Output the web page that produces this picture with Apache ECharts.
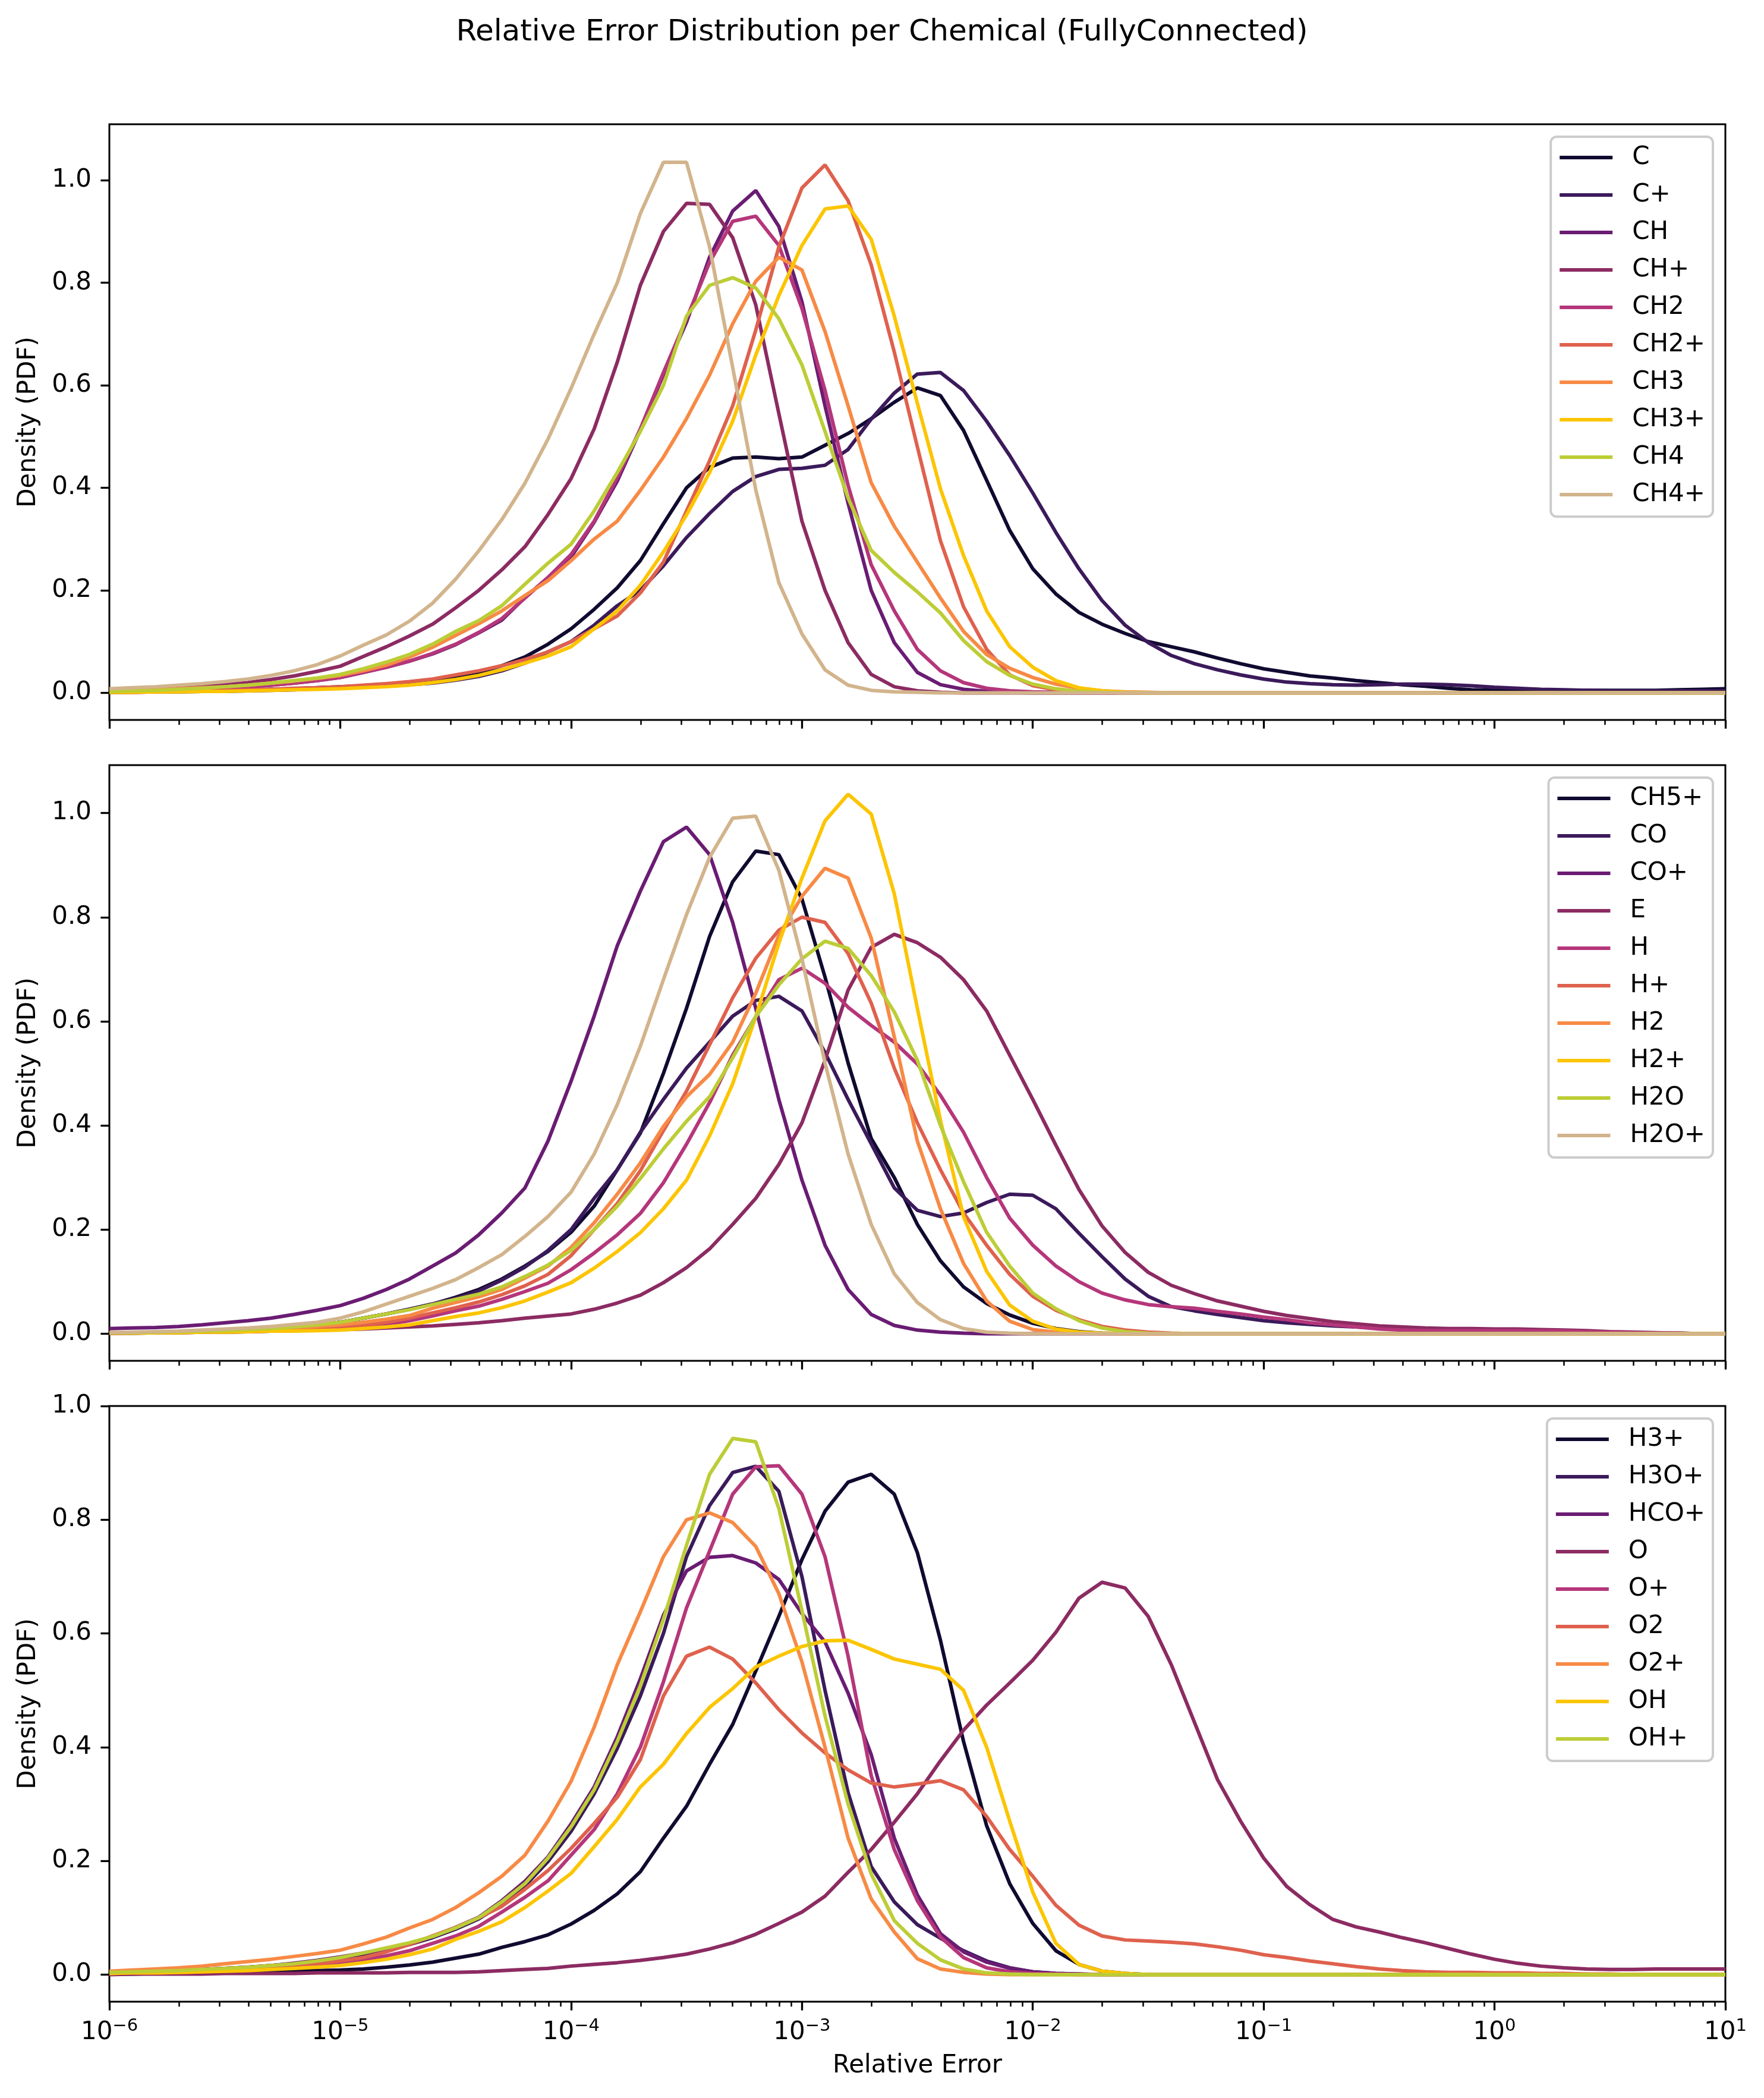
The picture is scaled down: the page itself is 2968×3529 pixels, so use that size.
<!DOCTYPE html>
<html><head><meta charset="utf-8">
<script src="https://cdn.jsdelivr.net/npm/echarts@6.0.0/dist/echarts.min.js"></script>
<style>html,body{margin:0;padding:0;background:#fff}#c{width:2968px;height:3529px}</style>
</head><body><div id="c"></div>
<script>
// log10 of the relative error grid
const xExp = [-6.0,-5.9,-5.8,-5.7,-5.6,-5.5,-5.4,-5.3,-5.2,-5.1,
-5.0,-4.9,-4.8,-4.7,-4.6,-4.5,-4.4,-4.3,-4.2,-4.1,
-4.0,-3.9,-3.8,-3.7,-3.6,-3.5,-3.4,-3.3,-3.2,-3.1,
-3.0,-2.9,-2.8,-2.7,-2.6,-2.5,-2.4,-2.3,-2.2,-2.1,
-2.0,-1.9,-1.8,-1.7,-1.6,-1.5,-1.4,-1.3,-1.2,-1.1,
-1.0,-0.9,-0.8,-0.7,-0.6,-0.5,-0.4,-0.3,-0.2,-0.1,
0.0,0.1,0.2,0.3,0.4,0.5,0.6,0.7,0.8,0.9,
1.0];

// ---- Panel 1 ----
const C = [0.002,0.002,0.003,0.003,0.004,0.005,0.006,0.007,0.008,0.010,
0.012,0.014,0.017,0.020,0.024,0.030,0.040,0.053,0.070,0.095,
0.125,0.163,0.205,0.258,0.330,0.400,0.440,0.458,0.460,0.457,
0.460,0.483,0.506,0.535,0.567,0.595,0.580,0.512,0.415,0.317,
0.242,0.193,0.157,0.134,0.116,0.100,0.090,0.080,0.068,0.057,
0.047,0.040,0.033,0.029,0.024,0.020,0.016,0.013,0.009,0.006,
0.005,0.005,0.005,0.005,0.005,0.005,0.005,0.005,0.006,0.007,
0.008];
const Cp = [0.001,0.001,0.002,0.002,0.003,0.003,0.004,0.005,0.006,0.008,
0.009,0.011,0.013,0.016,0.019,0.025,0.032,0.043,0.058,0.080,
0.100,0.132,0.170,0.200,0.248,0.303,0.350,0.393,0.422,0.436,
0.438,0.444,0.475,0.534,0.585,0.622,0.625,0.590,0.530,0.463,
0.390,0.313,0.242,0.180,0.132,0.098,0.073,0.057,0.045,0.035,
0.027,0.021,0.018,0.016,0.015,0.016,0.017,0.017,0.016,0.014,
0.011,0.009,0.007,0.006,0.005,0.004,0.004,0.004,0.004,0.004,
0.004];
const CH = [0.002,0.003,0.004,0.005,0.007,0.009,0.012,0.015,0.019,0.024,
0.030,0.040,0.050,0.062,0.076,0.094,0.117,0.142,0.186,0.225,
0.265,0.333,0.413,0.513,0.621,0.723,0.850,0.940,0.980,0.910,
0.763,0.560,0.370,0.200,0.098,0.040,0.016,0.007,0.003,0.001,
0,0,0,0,0,0,0,0,0,0,
0,0,0,0,0,0,0,0,0,0,
0,0,0,0,0,0,0,0,0,0,
0];
const CHp = [0.004,0.005,0.007,0.009,0.012,0.016,0.020,0.026,0.033,0.042,
0.052,0.071,0.090,0.111,0.134,0.166,0.200,0.240,0.285,0.348,
0.418,0.515,0.645,0.795,0.900,0.955,0.953,0.888,0.757,0.545,
0.335,0.200,0.098,0.036,0.012,0.004,0.001,0,0,0,
0,0,0,0,0,0,0,0,0,0,
0,0,0,0,0,0,0,0,0,0,
0,0,0,0,0,0,0,0,0,0,
0];
const CH2 = [0.002,0.003,0.004,0.005,0.007,0.009,0.012,0.015,0.019,0.024,
0.030,0.040,0.050,0.062,0.077,0.095,0.118,0.145,0.185,0.225,
0.270,0.335,0.420,0.515,0.625,0.730,0.840,0.920,0.930,0.873,
0.750,0.590,0.405,0.250,0.160,0.085,0.043,0.020,0.009,0.004,
0.002,0.001,0,0,0,0,0,0,0,0,
0,0,0,0,0,0,0,0,0,0,
0,0,0,0,0,0,0,0,0,0,
0];
const CH2p = [0.001,0.001,0.002,0.003,0.004,0.005,0.006,0.007,0.009,0.010,
0.012,0.015,0.018,0.022,0.027,0.035,0.043,0.053,0.065,0.080,
0.100,0.125,0.150,0.195,0.255,0.355,0.453,0.560,0.708,0.870,
0.985,1.030,0.960,0.835,0.665,0.480,0.297,0.168,0.085,0.035,
0.014,0.006,0.002,0.001,0,0,0,0,0,0,
0,0,0,0,0,0,0,0,0,0,
0,0,0,0,0,0,0,0,0,0,
0];
const CH3 = [0.004,0.005,0.006,0.008,0.010,0.012,0.015,0.019,0.023,0.028,
0.034,0.043,0.054,0.070,0.089,0.112,0.135,0.160,0.190,0.219,
0.258,0.300,0.335,0.395,0.460,0.535,0.620,0.720,0.803,0.850,
0.825,0.705,0.560,0.410,0.325,0.255,0.185,0.120,0.075,0.048,
0.030,0.017,0.009,0.004,0.002,0.001,0,0,0,0,
0,0,0,0,0,0,0,0,0,0,
0,0,0,0,0,0,0,0,0,0,
0];
const CH3p = [0.001,0.001,0.002,0.002,0.003,0.003,0.004,0.005,0.006,0.007,
0.008,0.010,0.012,0.015,0.020,0.026,0.034,0.045,0.058,0.072,
0.090,0.125,0.160,0.210,0.275,0.347,0.430,0.530,0.659,0.775,
0.873,0.944,0.950,0.885,0.735,0.565,0.398,0.268,0.160,0.090,
0.050,0.024,0.010,0.004,0.001,0,0,0,0,0,
0,0,0,0,0,0,0,0,0,0,
0,0,0,0,0,0,0,0,0,0,
0];
const CH4 = [0.003,0.004,0.005,0.007,0.009,0.012,0.015,0.019,0.024,0.029,
0.036,0.047,0.060,0.075,0.095,0.120,0.141,0.170,0.212,0.253,
0.290,0.355,0.430,0.510,0.600,0.735,0.795,0.810,0.790,0.730,
0.640,0.510,0.380,0.278,0.235,0.197,0.156,0.102,0.061,0.034,
0.017,0.008,0.003,0.001,0,0,0,0,0,0,
0,0,0,0,0,0,0,0,0,0,
0,0,0,0,0,0,0,0,0,0,
0];
const CH4p = [0.008,0.010,0.012,0.015,0.018,0.022,0.027,0.034,0.043,0.055,
0.072,0.093,0.113,0.140,0.175,0.222,0.277,0.338,0.409,0.495,
0.594,0.700,0.800,0.935,1.035,1.035,0.870,0.635,0.396,0.215,
0.115,0.045,0.015,0.005,0.002,0.001,0,0,0,0,
0,0,0,0,0,0,0,0,0,0,
0,0,0,0,0,0,0,0,0,0,
0,0,0,0,0,0,0,0,0,0,
0];

// ---- Panel 2 ----
const CH5p = [0.001,0.002,0.002,0.003,0.004,0.005,0.007,0.009,0.012,0.016,
0.022,0.030,0.038,0.047,0.057,0.070,0.085,0.105,0.130,0.158,
0.195,0.245,0.315,0.385,0.500,0.625,0.763,0.868,0.927,0.920,
0.835,0.685,0.520,0.375,0.300,0.210,0.140,0.090,0.058,0.036,
0.020,0.010,0.004,0.001,0,0,0,0,0,0,
0,0,0,0,0,0,0,0,0,0,
0,0,0,0,0,0,0,0,0,0,
0];
const CO = [0.001,0.002,0.002,0.003,0.004,0.005,0.007,0.009,0.012,0.016,
0.022,0.030,0.038,0.047,0.057,0.068,0.082,0.103,0.128,0.160,
0.200,0.260,0.315,0.387,0.450,0.510,0.560,0.610,0.640,0.648,
0.620,0.540,0.450,0.365,0.280,0.237,0.225,0.232,0.252,0.268,
0.266,0.240,0.193,0.148,0.105,0.072,0.052,0.044,0.037,0.031,
0.025,0.021,0.018,0.015,0.013,0.011,0.010,0.009,0.008,0.007,
0.007,0.006,0.006,0.005,0.004,0.003,0.002,0.001,0.001,0.000,
0.000];
const COp = [0.010,0.011,0.012,0.014,0.017,0.021,0.025,0.030,0.037,0.045,
0.054,0.068,0.085,0.105,0.130,0.155,0.190,0.232,0.280,0.370,
0.485,0.610,0.745,0.850,0.945,0.973,0.920,0.790,0.625,0.450,
0.295,0.170,0.085,0.037,0.016,0.007,0.003,0.001,0,0,
0,0,0,0,0,0,0,0,0,0,
0,0,0,0,0,0,0,0,0,0,
0,0,0,0,0,0,0,0,0,0,
0];
const E = [0.001,0.001,0.002,0.002,0.003,0.003,0.004,0.005,0.006,0.007,
0.008,0.009,0.011,0.013,0.015,0.018,0.021,0.025,0.030,0.034,
0.038,0.047,0.059,0.074,0.098,0.127,0.163,0.210,0.260,0.325,
0.405,0.525,0.660,0.742,0.767,0.751,0.723,0.680,0.620,0.535,
0.450,0.362,0.277,0.207,0.156,0.118,0.093,0.077,0.063,0.053,
0.043,0.035,0.029,0.023,0.019,0.015,0.013,0.011,0.010,0.010,
0.009,0.009,0.008,0.007,0.006,0.004,0.003,0.002,0.001,0.000,
0.000];
const H = [0.001,0.001,0.002,0.002,0.003,0.003,0.004,0.005,0.006,0.007,
0.008,0.012,0.018,0.025,0.034,0.044,0.053,0.066,0.081,0.097,
0.123,0.155,0.190,0.231,0.290,0.364,0.444,0.535,0.609,0.680,
0.702,0.673,0.627,0.592,0.560,0.518,0.458,0.387,0.300,0.222,
0.170,0.130,0.100,0.078,0.065,0.056,0.052,0.049,0.043,0.038,
0.032,0.027,0.021,0.017,0.013,0.009,0.007,0.006,0.006,0.006,
0.006,0.006,0.005,0.005,0.004,0.003,0.002,0.001,0.001,0.000,
0.000];
const Hp = [0.001,0.002,0.002,0.003,0.004,0.005,0.006,0.007,0.008,0.010,
0.012,0.016,0.022,0.030,0.040,0.050,0.061,0.075,0.092,0.114,
0.150,0.200,0.250,0.313,0.390,0.466,0.555,0.645,0.721,0.775,
0.800,0.790,0.730,0.635,0.510,0.405,0.315,0.232,0.170,0.114,
0.072,0.045,0.027,0.014,0.007,0.003,0.001,0,0,0,
0,0,0,0,0,0,0,0,0,0,
0,0,0,0,0,0,0,0,0,0,
0];
const H2 = [0.002,0.002,0.003,0.004,0.005,0.006,0.007,0.009,0.011,0.014,
0.017,0.022,0.028,0.035,0.049,0.060,0.071,0.085,0.107,0.130,
0.166,0.213,0.268,0.328,0.398,0.455,0.498,0.560,0.654,0.765,
0.840,0.894,0.875,0.760,0.570,0.370,0.240,0.135,0.063,0.024,
0.008,0.003,0.001,0,0,0,0,0,0,0,
0,0,0,0,0,0,0,0,0,0,
0,0,0,0,0,0,0,0,0,0,
0];
const H2p = [0.001,0.001,0.002,0.002,0.003,0.003,0.004,0.005,0.005,0.006,
0.007,0.010,0.013,0.017,0.025,0.033,0.040,0.050,0.063,0.080,
0.098,0.126,0.158,0.194,0.240,0.295,0.380,0.480,0.609,0.750,
0.875,0.985,1.036,0.998,0.845,0.625,0.410,0.225,0.120,0.055,
0.024,0.009,0.003,0.001,0,0,0,0,0,0,
0,0,0,0,0,0,0,0,0,0,
0,0,0,0,0,0,0,0,0,0,
0];
const H2O = [0.002,0.002,0.003,0.004,0.005,0.006,0.008,0.010,0.013,0.017,
0.022,0.030,0.038,0.046,0.056,0.066,0.076,0.090,0.110,0.132,
0.160,0.200,0.245,0.298,0.355,0.408,0.455,0.530,0.609,0.670,
0.720,0.754,0.740,0.688,0.618,0.525,0.400,0.292,0.195,0.130,
0.078,0.048,0.025,0.011,0.004,0.001,0,0,0,0,
0,0,0,0,0,0,0,0,0,0,
0,0,0,0,0,0,0,0,0,0,
0];
const H2Op = [0.002,0.003,0.004,0.005,0.007,0.009,0.011,0.014,0.018,0.022,
0.030,0.042,0.057,0.072,0.087,0.104,0.127,0.152,0.187,0.225,
0.272,0.345,0.440,0.552,0.680,0.805,0.915,0.990,0.994,0.890,
0.720,0.520,0.345,0.210,0.115,0.060,0.027,0.010,0.003,0.001,
0,0,0,0,0,0,0,0,0,0,
0,0,0,0,0,0,0,0,0,0,
0,0,0,0,0,0,0,0,0,0,
0];

// ---- Panel 3 ----
const H3p = [0.001,0.001,0.002,0.002,0.003,0.003,0.004,0.005,0.006,0.007,
0.008,0.010,0.013,0.017,0.022,0.029,0.036,0.048,0.058,0.070,
0.089,0.113,0.142,0.181,0.240,0.296,0.370,0.440,0.534,0.630,
0.730,0.815,0.866,0.880,0.845,0.742,0.588,0.410,0.262,0.160,
0.090,0.042,0.018,0.006,0.002,0,0,0,0,0,
0,0,0,0,0,0,0,0,0,0,
0,0,0,0,0,0,0,0,0,0,
0];
const H3Op = [0.004,0.005,0.006,0.007,0.009,0.011,0.013,0.016,0.019,0.024,
0.029,0.036,0.044,0.053,0.065,0.080,0.098,0.124,0.156,0.199,
0.252,0.318,0.398,0.490,0.600,0.735,0.825,0.883,0.894,0.850,
0.700,0.500,0.320,0.190,0.128,0.088,0.064,0.042,0.024,0.012,
0.005,0.002,0.001,0,0,0,0,0,0,0,
0,0,0,0,0,0,0,0,0,0,
0,0,0,0,0,0,0,0,0,0,
0];
const HCOp = [0.004,0.005,0.006,0.007,0.009,0.011,0.013,0.016,0.020,0.025,
0.031,0.038,0.046,0.055,0.067,0.083,0.101,0.130,0.164,0.207,
0.265,0.330,0.418,0.520,0.632,0.710,0.734,0.737,0.724,0.695,
0.635,0.585,0.495,0.387,0.240,0.140,0.072,0.040,0.022,0.011,
0.005,0.002,0.001,0,0,0,0,0,0,0,
0,0,0,0,0,0,0,0,0,0,
0,0,0,0,0,0,0,0,0,0,
0];
const O = [0.000,0.001,0.001,0.001,0.001,0.002,0.002,0.002,0.002,0.003,
0.003,0.003,0.003,0.004,0.004,0.004,0.005,0.007,0.009,0.011,
0.015,0.018,0.021,0.025,0.030,0.036,0.045,0.056,0.071,0.090,
0.110,0.138,0.180,0.220,0.268,0.318,0.376,0.430,0.474,0.513,
0.553,0.602,0.662,0.690,0.680,0.630,0.545,0.444,0.343,0.270,
0.205,0.155,0.123,0.097,0.084,0.075,0.065,0.056,0.046,0.036,
0.027,0.020,0.015,0.012,0.010,0.009,0.009,0.010,0.010,0.010,
0.010];
const Op = [0.002,0.003,0.003,0.004,0.005,0.006,0.008,0.010,0.013,0.016,
0.020,0.026,0.033,0.042,0.055,0.068,0.085,0.110,0.136,0.165,
0.210,0.255,0.318,0.400,0.515,0.645,0.745,0.845,0.893,0.895,
0.845,0.735,0.560,0.350,0.220,0.130,0.066,0.030,0.012,0.005,
0.002,0.001,0,0,0,0,0,0,0,0,
0,0,0,0,0,0,0,0,0,0,
0,0,0,0,0,0,0,0,0,0,
0];
const O2 = [0.002,0.003,0.003,0.004,0.005,0.007,0.009,0.011,0.014,0.019,
0.024,0.030,0.040,0.053,0.068,0.083,0.100,0.120,0.150,0.183,
0.222,0.266,0.312,0.378,0.490,0.560,0.576,0.555,0.513,0.466,
0.425,0.390,0.360,0.337,0.330,0.335,0.341,0.325,0.278,0.220,
0.173,0.122,0.087,0.068,0.061,0.059,0.057,0.054,0.049,0.043,
0.035,0.030,0.024,0.019,0.014,0.010,0.007,0.005,0.004,0.004,
0.003,0.003,0.002,0.002,0.001,0.001,0,0,0,0,
0];
const O2p = [0.006,0.008,0.010,0.012,0.015,0.019,0.023,0.027,0.032,0.037,
0.043,0.054,0.066,0.082,0.097,0.118,0.144,0.173,0.210,0.270,
0.340,0.435,0.545,0.638,0.735,0.800,0.812,0.795,0.753,0.670,
0.550,0.400,0.240,0.133,0.075,0.028,0.010,0.004,0.001,0,
0,0,0,0,0,0,0,0,0,0,
0,0,0,0,0,0,0,0,0,0,
0,0,0,0,0,0,0,0,0,0,
0];
const OH = [0.002,0.003,0.003,0.004,0.005,0.006,0.007,0.009,0.011,0.013,
0.016,0.021,0.027,0.035,0.045,0.062,0.076,0.093,0.118,0.147,
0.178,0.225,0.273,0.330,0.370,0.424,0.470,0.503,0.541,0.560,
0.577,0.587,0.588,0.572,0.555,0.546,0.537,0.500,0.400,0.270,
0.145,0.055,0.018,0.006,0.002,0,0,0,0,0,
0,0,0,0,0,0,0,0,0,0,
0,0,0,0,0,0,0,0,0,0,
0];
const OHp = [0.004,0.005,0.006,0.007,0.009,0.011,0.013,0.016,0.019,0.024,
0.030,0.038,0.047,0.056,0.067,0.082,0.100,0.128,0.160,0.205,
0.260,0.325,0.410,0.508,0.625,0.755,0.880,0.943,0.937,0.820,
0.640,0.455,0.300,0.177,0.095,0.055,0.026,0.010,0.003,0.001,
0,0,0,0,0,0,0,0,0,0,
0,0,0,0,0,0,0,0,0,0,
0,0,0,0,0,0,0,0,0,0,
0];

const names1 = ['C','C+','CH','CH+','CH2','CH2+','CH3','CH3+','CH4','CH4+'];
const names2 = ['CH5+','CO','CO+','E','H','H+','H2','H2+','H2O','H2O+'];
const names3 = ['H3+','H3O+','HCO+','O','O+','O2','O2+','OH','OH+'];
const values1 = [C,Cp,CH,CHp,CH2,CH2p,CH3,CH3p,CH4,CH4p];
const values2 = [CH5p,CO,COp,E,H,Hp,H2,H2p,H2O,H2Op];
const values3 = [H3p,H3Op,HCOp,O,Op,O2,O2p,OH,OHp];

const yTicks = [0,0.2,0.4,0.6,0.8,1.0];
const xMajorExp = [-6,-5,-4,-3,-2,-1,0,1];
const minorMult = [2,3,4,5,6,7,8,9];

const COLORS = ['#110a30','#3b1a5b','#6a1c73','#8c2b62','#b5367a','#df614d','#f78a45','#fcc501','#bccd36','#d2b48c'];
const FONT = 'DejaVu Sans';

const panels = [
  {names: names1, values: values1, yMin: -0.0528, yMax: 1.1093},
  {names: names2, values: values2, yMin: -0.052, yMax: 1.092},
  {names: names3, values: values3, yMin: -0.0476, yMax: 1.0}
];
const GRID_LEFT = 184, GRID_W = 2719, GRID_H = 1002, TOPS = [209, 1287, 2365];

const minorExp = [];
xMajorExp.slice(0, -1).forEach(d => minorMult.forEach(m => minorExp.push(d + Math.log10(m))));

function supLabel(v) {
  const e = Math.round(v);
  return '{b|10}{s|' + (e < 0 ? '\u2212' + (-e) : String(e)) + '}';
}

const grid = [], xAxis = [], yAxis = [], series = [], legend = [];
panels.forEach((p, pi) => {
  grid.push({left: GRID_LEFT, top: TOPS[pi], width: GRID_W, height: GRID_H, show: true,
    borderColor: '#000', borderWidth: 3, backgroundColor: 'transparent'});
  // data axis (log scale)
  xAxis.push({type: 'log', logBase: 10, gridIndex: pi, min: 1e-6, max: 10, show: false, position: 'bottom',
    axisLine: {onZero: false}});
  yAxis.push({type: 'value', gridIndex: pi, min: p.yMin, max: p.yMax, position: 'left',
    name: 'Density (PDF)', nameLocation: 'middle', nameGap: 115, nameRotate: 90,
    nameTextStyle: {fontSize: 42, fontFamily: FONT, color: '#000'},
    axisLine: {show: false, onZero: false}, splitLine: {show: false},
    axisTick: {show: true, length: 14.6, customValues: yTicks, lineStyle: {color: '#000', width: 3.3}},
    axisLabel: {customValues: yTicks, formatter: v => v.toFixed(1), fontSize: 42, fontFamily: FONT, color: '#000', margin: 30}
  });
  p.names.forEach((n, i) => {
    series.push({type: 'line', name: n, xAxisIndex: pi, yAxisIndex: pi,
      data: xExp.map((e, k) => [Math.pow(10, e), p.values[i][k]]),
      showSymbol: false, symbol: 'none', smooth: false, animation: false,
      lineStyle: {width: 6, color: COLORS[i]}, itemStyle: {color: COLORS[i]},
      emphasis: {disabled: true}});
  });
  legend.push({orient: 'vertical', right: 86, top: TOPS[pi] + 21, data: p.names, icon: 'rect',
    itemWidth: 89, itemHeight: 6, itemGap: 21, padding: [14, 13, 16, 15], selectedMode: false,
    backgroundColor: 'rgba(255,255,255,0.8)', borderColor: '#cccccc', borderWidth: 4, borderRadius: 10,
    itemStyle: {borderWidth: 0},
    textStyle: {fontSize: 42, fontFamily: FONT, color: '#000', lineHeight: 42, padding: [0, 0, 0, 28]}});
});
// tick axes in exponent space (same linear mapping as the log axis)
panels.forEach((p, pi) => {
  const isBottom = pi === panels.length - 1;
  xAxis.push({type: 'value', gridIndex: pi, min: -6, max: 1, position: 'bottom',
    axisLine: {show: false, onZero: false}, splitLine: {show: false},
    axisTick: {show: true, length: 14.6, customValues: xMajorExp, lineStyle: {color: '#000', width: 3.3}},
    axisLabel: {show: isBottom, customValues: xMajorExp, margin: 27, formatter: supLabel,
      rich: {b: {fontSize: 42, fontFamily: FONT, color: '#000', lineHeight: 46, verticalAlign: 'bottom'},
             s: {fontSize: 29, fontFamily: FONT, color: '#000', lineHeight: 30, verticalAlign: 'top'}}},
    name: isBottom ? 'Relative Error' : '', nameLocation: 'middle', nameGap: 87,
    nameTextStyle: {fontSize: 42, fontFamily: FONT, color: '#000'}
  });
  xAxis.push({type: 'value', gridIndex: pi, min: -6, max: 1, position: 'bottom',
    axisLine: {show: false, onZero: false}, splitLine: {show: false}, axisLabel: {show: false},
    axisTick: {show: true, length: 8.3, customValues: minorExp, lineStyle: {color: '#000', width: 2.5}}
  });
});

const chart = echarts.init(document.getElementById('c'), null, {renderer: 'canvas'});
chart.setOption({
  animation: false,
  backgroundColor: '#fff',
  title: {text: 'Relative Error Distribution per Chemical (FullyConnected)', left: 'center', top: 25,
    textStyle: {fontSize: 50, fontWeight: 'normal', fontFamily: FONT, color: '#000'}},
  grid, xAxis, yAxis, series, legend
});
</script></body></html>
